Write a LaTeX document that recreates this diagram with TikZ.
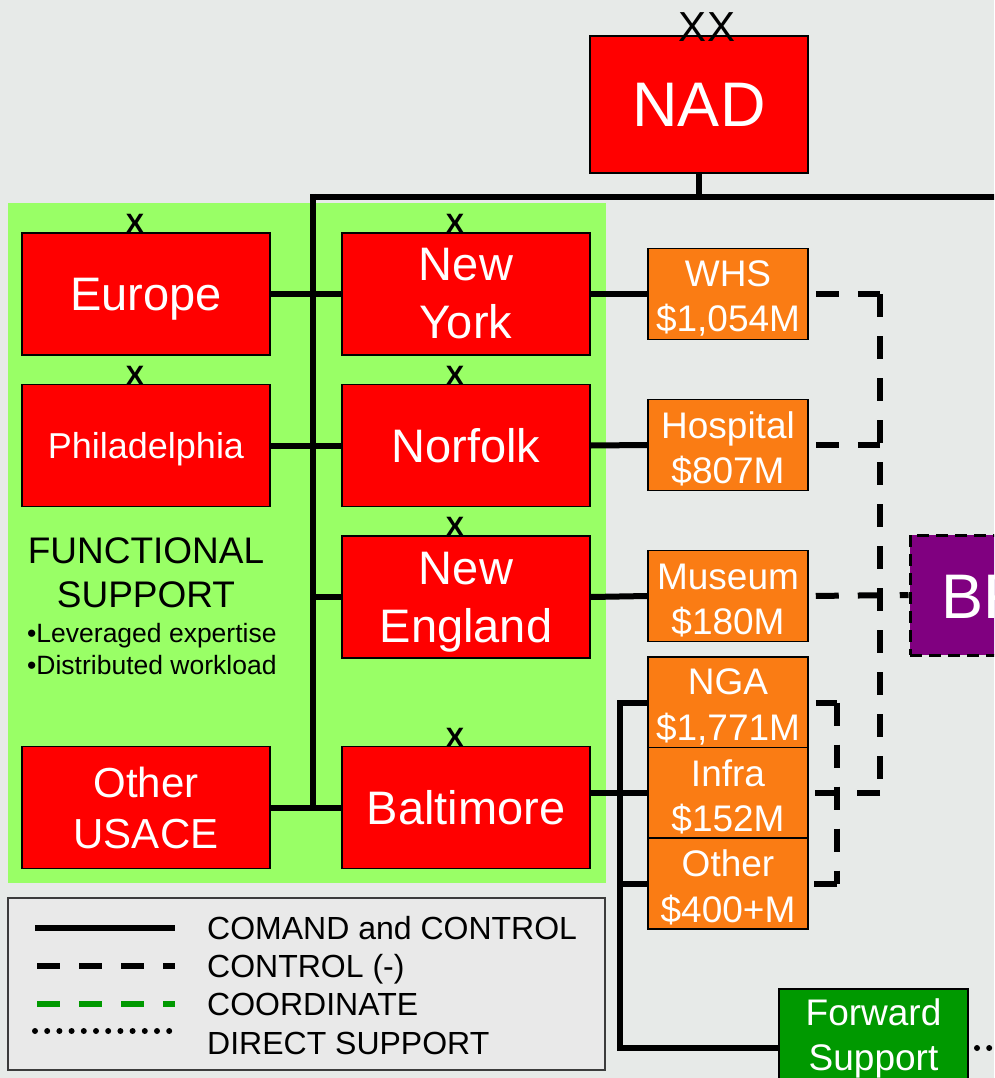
\documentclass[tikz,border=0pt]{standalone}
\usepackage{fontspec}
\setmainfont{Liberation Sans}
\definecolor{bg}{RGB}{231,234,232}
\definecolor{panel}{RGB}{153,255,102}
\definecolor{org}{RGB}{250,124,20}
\definecolor{fsg}{RGB}{0,153,0}
\definecolor{purp}{RGB}{128,0,128}
\definecolor{lgbg}{RGB}{233,233,233}
\definecolor{lgborder}{RGB}{60,60,60}
\newcommand{\fsz}[2]{\fontsize{#1}{#2}\selectfont}
\newcommand{\tstrut}{\rule{0pt}{35pt}}
\begin{document}
\begin{tikzpicture}[x=1pt,y=-1pt,
  redbox/.style={draw=black,line width=1.5pt,fill=red,text=white,minimum width=248pt,minimum height=122pt,inner sep=0pt,align=center,font=\fsz{47}{58}},
  orgbox/.style={draw=black,line width=1.5pt,fill=org,text=white,minimum width=160pt,minimum height=91pt,inner sep=0pt,align=center,font=\fsz{37}{45.5}},
  xlab/.style={font=\bfseries\fsz{28}{28},inner sep=0pt,anchor=south},
  cc/.style={line width=6pt},
  ctl/.style={line width=6pt,dash pattern=on 23pt off 19pt,dash phase=0pt},
  ctlgap/.style={ctl,dash phase=35pt},
  crd/.style={line width=6pt,draw=fsg,dash pattern=on 23pt off 19pt,dash phase=40pt},
  dsup/.style={line width=6pt,line cap=round,dash pattern=on 0pt off 12.2pt},
  lgtext/.style={anchor=west,font=\fsz{32}{32},inner sep=0pt,text depth=0pt}]
\fill[bg] (0,0) rectangle (994,1078);
\useasboundingbox (0,0) rectangle (994,1078);
\clip (0,0) rectangle (994,1078);

% green panel
\node[fill=panel,minimum width=598pt,minimum height=680pt,inner sep=0pt] (panel) at (307,543) {};

% NAD
\node[redbox,minimum width=218pt,minimum height=137pt,font=\fsz{63}{63}] (nad) at (699,104.5) {NAD};
\node[font=\fsz{42}{42},inner sep=0pt,anchor=south] (xx) at (707,42) {XX};

% red boxes
\node[redbox,text depth=0pt] (europe) at (146,294) {Europe};
\node[redbox] (ny) at (466,294) {New\\York};
\node[redbox,font=\fsz{36}{36},text depth=0pt] (phil) at (146,445.5) {Philadelphia};
\node[redbox] (norfolk) at (466,445.5) {Norfolk};
\node[redbox] (ne) at (466,597) {\rule{0pt}{42pt}New\\England};
\node[redbox] (balt) at (466,807.5) {Baltimore};
\node[redbox,font=\fsz{42}{51}] (ousace) at (146,807.5) {Other\\USACE};

\node[xlab] (xeu) at (135,234) {X};
\node[xlab] (xny) at (455,234) {X};
\node[xlab] (xph) at (135,386) {X};
\node[xlab] (xno) at (455,386) {X};
\node[xlab] (xne) at (455,537) {X};
\node[xlab] (xba) at (455,748) {X};

% functional support text
\node[font=\fsz{37}{44},align=center,inner sep=0pt] (fsup) at (146,573) {FUNCTIONAL\\SUPPORT};
\node[anchor=west,font=\fsz{26.5}{32},align=left,inner sep=0pt] (bul) at (27,649) {•Leveraged expertise\\•Distributed workload};

% orange boxes
\node[orgbox] (whs) at (728,294) {\tstrut WHS\\\$1,054M};
\node[orgbox] (hosp) at (728,445) {\tstrut Hospital\\\$807M};
\node[orgbox] (mus) at (728,596) {\tstrut Museum\\\$180M};
\node[orgbox] (nga) at (728,702.5) {\tstrut NGA\\\$1,771M};
\node[orgbox] (infra) at (728,793) {\tstrut Infra\\\$152M};
\node[orgbox] (oth) at (728,883.5) {\tstrut Other\\\$400+M};

% forward support
\node[draw=black,line width=1.5pt,fill=fsg,text=white,minimum width=189pt,minimum height=98pt,inner sep=0pt,align=center,font=\fsz{37}{45}] (fwd) at (873.5,1038) {Forward\\Support};

% BR box
\node[draw=black,line width=3pt,dash pattern=on 12pt off 7pt,fill=purp,minimum width=244pt,minimum height=120pt,inner sep=0pt] (br) at (1032,595) {};
\node[anchor=base west,text=white,font=\fsz{63}{63},inner sep=0pt] (brtext) at (941,618) {BR};

% coordinates
\coordinate (trunkTop) at (313,197);
\coordinate (trunkBot) at (313,807.5);
\coordinate (rightEnd) at (1000,197);
\coordinate (bxTop) at (620,702.5);
\coordinate (bxBot) at (620,1048);
\coordinate (fsIn) at (779,1048);
\coordinate (fsOut) at (968,1048);
\coordinate (dsEnd) at (1000,1048);
\coordinate (ctlTop) at (880,294);
\coordinate (ctlBot) at (880,793);
\coordinate (brkTop) at (837,702.5);
\coordinate (brkBot) at (837,883.5);

% command and control
\draw[cc] (nad.south) -- (nad.south |- trunkTop);
\draw[cc] (trunkTop) -- (rightEnd);
\draw[cc] ([yshift=3pt]trunkTop) -- (trunkBot);
\draw[cc] (europe.east) -- (ny.west);
\draw[cc] (phil.east) -- (norfolk.west);
\draw[cc] (ne.west -| trunkTop) -- (ne.west);
\draw[cc] (ousace.east) -- (balt.west);
\draw[cc] (ny.east) -- (whs.west);
\draw[cc] (norfolk.east) -- (hosp.west);
\draw[cc] (ne.east) -- (mus.west);
\draw[cc] (balt.east |- infra.west) -- (infra.west);
\draw[cc] (nga.west) -- (bxTop) -- (bxBot) -- (fsIn);
\draw[cc] (oth.west -| bxTop) -- (oth.west);

% control (-)
\draw[ctlgap] (whs.east) -- (ctlTop);
\draw[ctl] (ctlTop) -- (ctlBot);
\draw[ctl] (ctlBot) -- (infra.east);
\draw[ctlgap] (hosp.east) -- (hosp.east -| ctlTop);
\draw[ctlgap] (mus.east) -- (br.west);
\draw[ctlgap] (nga.east) -- (brkTop);
\draw[ctl] (brkTop) -- (brkBot);
\draw[ctl] (brkBot) -- (oth.east);

% direct support
\draw[dsup] ([xshift=9pt]fsOut) -- (dsEnd);

% legend
\node[draw=lgborder,line width=1.5pt,fill=lgbg,minimum width=597pt,minimum height=172pt,inner sep=0pt] (legend) at (306.5,984) {};
\node[lgtext] (l1) at (207,928) {COMAND and CONTROL};
\node[lgtext] (l2) at (207,966) {CONTROL (-)};
\node[lgtext] (l3) at (207,1004) {COORDINATE};
\node[lgtext] (l4) at (207,1043) {DIRECT SUPPORT};
\draw[cc] ([xshift=-172pt]l1.west) -- ([xshift=-32pt]l1.west);
\draw[ctl,dash phase=40pt] ([xshift=-172pt]l2.west) -- ([xshift=-32pt]l2.west);
\draw[crd] ([xshift=-172pt]l3.west) -- ([xshift=-32pt]l3.west);
\draw[dsup] ([xshift=-172pt,yshift=12pt]l4.west) -- ([xshift=-36pt,yshift=12pt]l4.west);
\end{tikzpicture}
\end{document}
